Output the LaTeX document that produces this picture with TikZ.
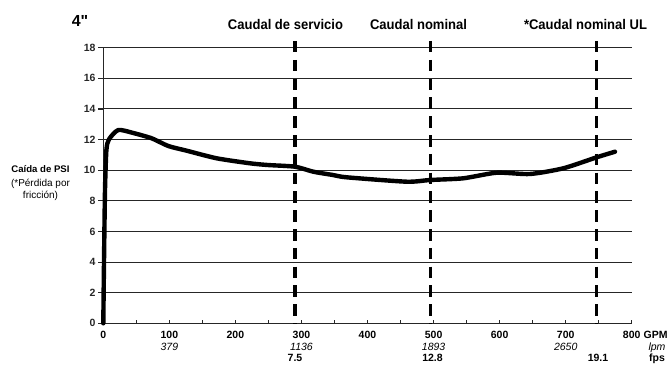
\documentclass[tikz,border=0pt]{standalone}
\usepackage{fontspec}
\setmainfont{Liberation Sans}
\newfontfamily\narrowsans[FakeStretch=0.93]{Liberation Sans}
\newfontfamily\plainsans{Liberation Sans}
\usepackage{tikz}
\tikzset{
  font={\fontsize{10.5pt}{12}\selectfont}}

\begin{document}
\begin{tikzpicture}[x=1pt,y=1pt]
\tikzstyle{every node}+=[inner sep=0pt]
\tikzstyle{grid}=[black!85, line width=1.1pt]
\tikzstyle{limit}=[black, line width=3.2pt, dash pattern=on 11.5pt off 7.3pt]
\tikzstyle{flow}=[black, line width=4.4pt, line join=round, line cap=round]
\tikzstyle{head}=[font={\narrowsans\fontsize{14pt}{16}\selectfont\bfseries}, anchor=base]
\tikzstyle{num}=[font={\fontsize{10.5pt}{12}\selectfont\bfseries}]
\tikzstyle{lpm}=[font={\fontsize{10.5pt}{12}\selectfont\itshape}, anchor=base]
\useasboundingbox (0,0) rectangle (671,-369);
% grid
\draw [grid] (103.3,-292.7) -- (631.7,-292.7);
\draw [grid] (103.3,-262.1) -- (631.7,-262.1);
\draw [grid] (103.3,-231.4) -- (631.7,-231.4);
\draw [grid] (103.3,-200.8) -- (631.7,-200.8);
\draw [grid] (103.3,-170.2) -- (631.7,-170.2);
\draw [grid] (103.3,-139.6) -- (631.7,-139.6);
\draw [grid] (103.3,-108.9) -- (631.7,-108.9);
\draw [grid] (103.3,-78.3) -- (631.7,-78.3);
\draw [grid] (103.3,-47.7) -- (631.7,-47.7);
% axes
\coordinate (o) at (103.3,-323.3);
\coordinate (top) at (103.3,-47.7);
\coordinate (right) at (631.7,-323.3);
\draw [grid] (top) -- (o) -- (right);
\foreach \y in {0,2,...,18}
  \draw [grid] (98,-323.3+15.31*\y) -- (103.3,-323.3+15.31*\y)
    node (y\y) at (96,-323.3+15.31*\y) [num, anchor=east] {\y};
\foreach \k in {0,...,16}
  \draw [grid] (103.3+33.025*\k,-323.3) -- (103.3+33.025*\k,-320.3);
% x labels
\draw (103.3,-338.3) node (g0) [num, anchor=base] {0};
\draw (169.4,-338.3) node (g1) [num, anchor=base] {100};
\draw (235.4,-338.3) node (g2) [num, anchor=base] {200};
\draw (301.5,-338.3) node (g3) [num, anchor=base] {300};
\draw (367.5,-338.3) node (g4) [num, anchor=base] {400};
\draw (433.6,-338.3) node (g5) [num, anchor=base] {500};
\draw (499.6,-338.3) node (g6) [num, anchor=base] {600};
\draw (565.7,-338.3) node (g7) [num, anchor=base] {700};
\draw (631.7,-338.3) node (g8) [num, anchor=base] {800};
\draw (643.5,-338.3) node (gpm) [num, anchor=base west] {GPM};
\draw (169.4,-350) node (l1) [lpm] {379};
\draw (301.5,-350) node (l3) [lpm] {1136};
\draw (433.6,-350) node (l5) [lpm] {1893};
\draw (565.7,-350) node (l7) [lpm] {2650};
\draw (657,-350) node (lpmtxt) [lpm] {lpm};
\draw (295,-361.7) node (f1) [num, anchor=base] {7.5};
\draw (432.5,-361.7) node (f2) [num, anchor=base] {12.8};
\draw (598,-361.7) node (f3) [num, anchor=base] {19.1};
\draw (657,-361.7) node (fps) [num, anchor=base] {fps};
% y label
\draw (40.5,-172.7) node (psi) [font={\fontsize{9.6pt}{12}\selectfont\bfseries}, anchor=base] {Caída de PSI};
\draw (40.5,-186.5) node (perd) [font={\fontsize{10pt}{12}\selectfont}, anchor=base] {(*Pérdida por};
\draw (40.5,-198.5) node (fric) [font={\fontsize{10pt}{12}\selectfont}, anchor=base] {fricción)};
% flow limits
\draw (80,-26.7) node (size) [font={\plainsans\fontsize{16pt}{18}\selectfont\bfseries}, anchor=base] {4"};
\draw (285.5,-29.3) node (serv) [head] {Caudal de servicio};
\draw (418.5,-29.3) node (nom) [head] {Caudal nominal};
\draw (585.5,-29.3) node (nomul) [head] {*Caudal nominal UL};
\draw [limit] (295,-41) -- (295,-323.3);
\draw [limit] (430.7,-41) -- (430.7,-323.3);
\draw [limit] (596.7,-41) -- (596.7,-323.3);
% pressure drop
\draw [flow] plot [smooth, tension=0.4] coordinates {(103.3,-323.3) (104,-262) (105,-190)
  (106.4,-150) (109,-139.3) (118.3,-130) (133.3,-133) (151.7,-138.3) (168.3,-146)
  (186.7,-150.7) (216.7,-158.3) (250,-163.3) (267.6,-165) (295,-166.7) (313.3,-171.7)
  (333,-175) (346.7,-177.3) (406.7,-181.7) (430,-180) (463.3,-178.3) (496.7,-172.7)
  (530,-174) (563.3,-168.3) (596.7,-157.3) (615,-151.7)};
\end{tikzpicture}
\end{document}
